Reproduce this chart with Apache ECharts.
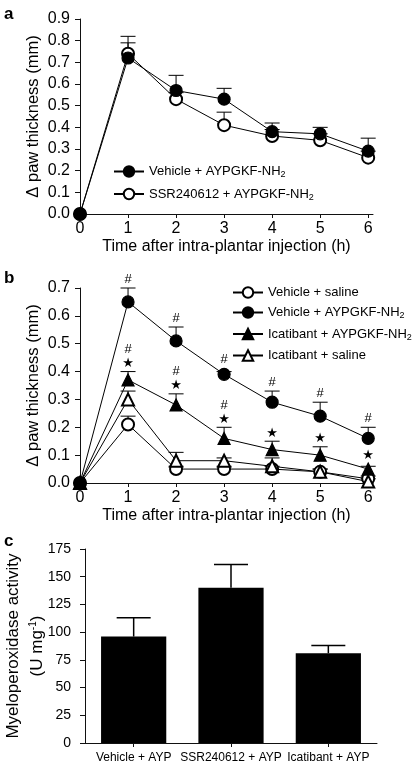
<!DOCTYPE html>
<html>
<head>
<meta charset="utf-8">
<script src="https://cdn.jsdelivr.net/npm/echarts@6/dist/echarts.min.js"></script>
<style>
html,body{margin:0;padding:0;background:#fff;}
#chart{width:414px;height:764px;}
</style>
</head>
<body>
<div id="chart"></div>
<script>
// ---------- DATA ----------
const hours = [0, 1, 2, 3, 4, 5, 6];
const xTicks = [0, 1, 2, 3, 4, 5, 6];

// Panel a
const aVehicleAYP = [0, 0.72, 0.57, 0.53, 0.38, 0.37, 0.29];
const aVehicleAYPSem = [0, 0.10, 0.07, 0.05, 0.04, 0.03, 0.06];
const aSSRAYP = [0, 0.74, 0.53, 0.41, 0.36, 0.34, 0.26];
const aSSRAYPSem = [0, 0.05, 0.03, 0.06, 0.03, 0.03, 0.03];

// Panel b
const bVehicleSaline = [0, 0.21, 0.05, 0.05, 0.05, 0.04, 0.015];
const bVehicleSalineSem = [0, 0.03, 0.01, 0.01, 0.01, 0.01, 0.01];
const bVehicleAYP = [0, 0.65, 0.51, 0.39, 0.29, 0.24, 0.16];
const bVehicleAYPSem = [0, 0.05, 0.05, 0.01, 0.04, 0.05, 0.04];
const bIcatibantAYP = [0, 0.37, 0.28, 0.16, 0.12, 0.10, 0.05];
const bIcatibantAYPSem = [0, 0.03, 0.04, 0.04, 0.03, 0.03, 0.01];
const bIcatibantSaline = [0, 0.30, 0.08, 0.08, 0.06, 0.04, 0.005];
const bIcatibantSalineSem = [0, 0.03, 0.03, 0.01, 0.03, 0.01, 0.01];
const hashVehicleAYP = [1, 2, 3, 4, 5, 6];
const hashIcatibantAYP = [1, 2, 3];
const starIcatibantAYP = [1, 2, 3, 4, 5, 6];

// Panel c
const groups = ['Vehicle + AYP', 'SSR240612 + AYP', 'Icatibant + AYP'];
const mpo = [96, 140, 81];
const mpoSem = [17, 21, 7];

// ---------- HELPERS ----------
const FONT = "'Liberation Sans', Arial, Helvetica, sans-serif";
const pts = (ys) => hours.map((h, i) => [h, ys[i]]);
const errPts = (ys, es) => hours.map((h, i) => [h, ys[i], es[i]]);

function errRender(capHalf, lw) {
  return function (params, api) {
    const x = api.value(0), y = api.value(1), e = api.value(2);
    if (!e) return null;
    const p0 = api.coord([x, y]);
    const p1 = api.coord([x, y + e]);
    return {
      type: 'group',
      children: [
        { type: 'line', shape: { x1: p0[0], y1: p0[1], x2: p1[0], y2: p1[1] }, style: { stroke: '#000', lineWidth: lw } },
        { type: 'line', shape: { x1: p1[0] - capHalf, y1: p1[1], x2: p1[0] + capHalf, y2: p1[1] }, style: { stroke: '#000', lineWidth: lw } }
      ]
    };
  };
}

function annotRender(text, offset, size, family) {
  return function (params, api) {
    const p = api.coord([api.value(0), api.value(1)]);
    return {
      type: 'text',
      x: p[0], y: p[1] - offset,
      style: { text: text, fill: '#000', fontSize: size, fontFamily: family || FONT, align: 'center', verticalAlign: 'middle' }
    };
  };
}

function annotData(xs, ys, es) {
  return xs.map(x => { const i = hours.indexOf(x); return [x, Math.max(ys[i] + es[i], ys[i] + 0.02)]; });
}

function lineSeries(name, ys, xi, symbol, z) {
  return {
    type: 'line', name: name, xAxisIndex: xi, yAxisIndex: xi,
    data: pts(ys), symbol: symbol, symbolSize: 12, showSymbol: true,
    lineStyle: { color: '#000', width: 1 },
    itemStyle: { color: '#000', borderColor: '#000', borderWidth: 1.2 },
    emphasis: { disabled: true }, animation: false, z: z || 3
  };
}

function errSeries(ys, es, xi) {
  return {
    type: 'custom', xAxisIndex: xi, yAxisIndex: xi, renderItem: errRender(7.5, 1),
    data: errPts(ys, es), encode: { x: 0, y: 1 }, z: 1, animation: false, silent: true
  };
}

const axisCommon = {
  axisLine: { show: true, lineStyle: { color: '#111', width: 1 } },
  axisTick: { show: true, inside: false, length: 5, lineStyle: { color: '#111', width: 1 } },
  splitLine: { show: false }
};

function xValAxis(gi) {
  return Object.assign({}, axisCommon, {
    type: 'value', gridIndex: gi, min: 0, max: 6.1, interval: 1,
    axisTick: Object.assign({}, axisCommon.axisTick, { length: 4, customValues: xTicks }),
    axisLabel: { customValues: xTicks, fontSize: 16, color: '#000', fontFamily: FONT, margin: 7 },
    name: 'Time after intra-plantar injection (h)', nameLocation: 'middle', nameGap: 25, nameMoveOverlap: false,
    nameTextStyle: { fontSize: 16, color: '#000', fontFamily: FONT }
  });
}

function yValAxis(gi, max) {
  return Object.assign({}, axisCommon, {
    type: 'value', gridIndex: gi, min: 0, max: max, interval: 0.1,
    axisLabel: { fontSize: 16, color: '#000', fontFamily: FONT, margin: 10, formatter: v => v.toFixed(1) },
    name: 'Δ paw thickness (mm)', nameLocation: 'middle', nameRotate: 90, nameGap: 38, nameMoveOverlap: false,
    nameTextStyle: { fontSize: 16.5, color: '#000', fontFamily: FONT }
  });
}

const legendText = {
  fontSize: 13, color: '#000', fontFamily: FONT,
  rich: { sub: { fontSize: 9, fontFamily: FONT, color: '#000', padding: [7, 0, 0, 0] } }
};
const legendFormatter = n => n.replace(/^[ab]\|/, '').replace(/NH2$/, 'NH{sub|2}');

const chart = echarts.init(document.getElementById('chart'), null, { renderer: 'canvas' });

const option = {
  backgroundColor: '#fff',
  animation: false,
  textStyle: { fontFamily: FONT },
  grid: [
    { left: 80, top: 19, width: 293, height: 195, outerBoundsMode: 'none', containLabel: false },
    { left: 80, top: 288, width: 293, height: 195, outerBoundsMode: 'none', containLabel: false },
    { left: 85, top: 549, width: 292, height: 194, outerBoundsMode: 'none', containLabel: false }
  ],
  xAxis: [
    xValAxis(0),
    xValAxis(1),
    Object.assign({}, axisCommon, {
      type: 'category', gridIndex: 2, data: groups,
      axisTick: Object.assign({}, axisCommon.axisTick, { length: 4, alignWithLabel: true }),
      axisLabel: { fontSize: 12, color: '#000', fontFamily: FONT, margin: 9, interval: 0, hideOverlap: false }
    })
  ],
  yAxis: [
    yValAxis(0, 0.9),
    yValAxis(1, 0.7),
    Object.assign({}, axisCommon, {
      type: 'value', gridIndex: 2, min: 0, max: 175, interval: 25,
      axisLabel: { fontSize: 14, color: '#000', fontFamily: FONT, margin: 14 },
      name: 'Myeloperoxidase activity\n(U mg{sup|-1})', nameLocation: 'middle', nameRotate: 90, nameGap: 36, nameMoveOverlap: false,
      nameTextStyle: {
        fontSize: 17, color: '#000', fontFamily: FONT, lineHeight: 24, align: 'center',
        rich: { sup: { fontSize: 10, color: '#000', fontFamily: FONT, padding: [0, 0, 8, 0] } }
      }
    })
  ],
  legend: [
    {
      left: 108, top: 160, padding: 5, orient: 'vertical', itemWidth: 30, itemHeight: 13, itemGap: 8,
      data: ['a|Vehicle + AYPGKF-NH2', 'a|SSR240612 + AYPGKF-NH2'],
      formatter: legendFormatter, textStyle: legendText, selectedMode: false
    },
    {
      left: 227, top: 281, padding: 5, orient: 'vertical', itemWidth: 30, itemHeight: 13, itemGap: 7,
      data: ['b|Vehicle + saline', 'b|Vehicle + AYPGKF-NH2', 'b|Icatibant + AYPGKF-NH2', 'b|Icatibant + saline'],
      formatter: legendFormatter, textStyle: legendText, selectedMode: false
    }
  ],
  graphic: [
    { type: 'text', x: 4, y: 14.5, style: { text: 'a', fontSize: 17, fontWeight: 'bold', fontFamily: FONT, fill: '#000', verticalAlign: 'middle' } },
    { type: 'text', x: 4, y: 278, style: { text: 'b', fontSize: 17, fontWeight: 'bold', fontFamily: FONT, fill: '#000', verticalAlign: 'middle' } },
    { type: 'text', x: 4, y: 541, style: { text: 'c', fontSize: 17, fontWeight: 'bold', fontFamily: FONT, fill: '#000', verticalAlign: 'middle' } }
  ],
  series: [
    // panel a
    errSeries(aSSRAYP, aSSRAYPSem, 0),
    errSeries(aVehicleAYP, aVehicleAYPSem, 0),
    lineSeries('a|SSR240612 + AYPGKF-NH2', aSSRAYP, 0, 'emptyCircle', 3),
    lineSeries('a|Vehicle + AYPGKF-NH2', aVehicleAYP, 0, 'circle', 4),
    // panel b
    errSeries(bVehicleSaline, bVehicleSalineSem, 1),
    errSeries(bIcatibantSaline, bIcatibantSalineSem, 1),
    errSeries(bIcatibantAYP, bIcatibantAYPSem, 1),
    errSeries(bVehicleAYP, bVehicleAYPSem, 1),
    lineSeries('b|Vehicle + saline', bVehicleSaline, 1, 'emptyCircle', 3),
    lineSeries('b|Icatibant + saline', bIcatibantSaline, 1, 'emptyTriangle', 3),
    lineSeries('b|Icatibant + AYPGKF-NH2', bIcatibantAYP, 1, 'triangle', 4),
    lineSeries('b|Vehicle + AYPGKF-NH2', bVehicleAYP, 1, 'circle', 4),
    {
      type: 'custom', xAxisIndex: 1, yAxisIndex: 1, renderItem: annotRender('#', 9, 13),
      data: annotData(hashVehicleAYP, bVehicleAYP, bVehicleAYPSem), encode: { x: 0, y: 1 }, z: 5, silent: true
    },
    {
      type: 'custom', xAxisIndex: 1, yAxisIndex: 1, renderItem: annotRender('#', 22, 13),
      data: annotData(hashIcatibantAYP, bIcatibantAYP, bIcatibantAYPSem), encode: { x: 0, y: 1 }, z: 5, silent: true
    },
    {
      type: 'custom', xAxisIndex: 1, yAxisIndex: 1, renderItem: annotRender('★', 8, 13, "'DejaVu Sans', sans-serif"),
      data: annotData(starIcatibantAYP, bIcatibantAYP, bIcatibantAYPSem), encode: { x: 0, y: 1 }, z: 5, silent: true
    },
    // panel c
    {
      type: 'bar', xAxisIndex: 2, yAxisIndex: 2, data: mpo, barWidth: '67%',
      itemStyle: { color: '#000' }, emphasis: { disabled: true }, z: 2
    },
    {
      type: 'custom', xAxisIndex: 2, yAxisIndex: 2, renderItem: errRender(17, 1.5),
      data: mpo.map((v, i) => [i, v, mpoSem[i]]), encode: { x: 0, y: 1 }, z: 1, silent: true
    }
  ]
};
chart.setOption(option);
</script>
</body>
</html>
